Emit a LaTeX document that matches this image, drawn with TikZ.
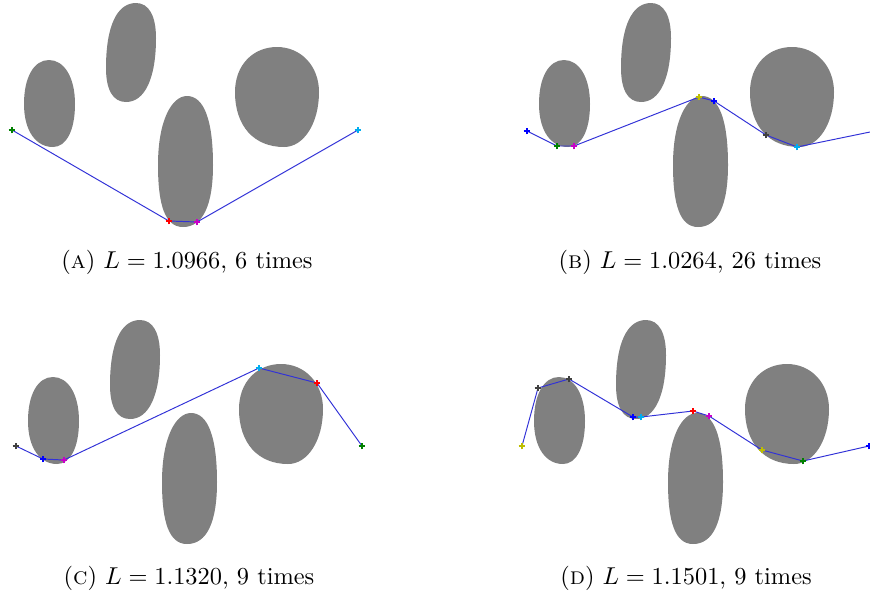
\documentclass[tikz,border=0pt]{standalone}
\usepackage{amsmath}
\usepackage{xcolor}
\usetikzlibrary{shapes.misc}
\definecolor{routeblue}{RGB}{50,50,215}
\definecolor{mkgreen}{RGB}{0,128,0}
\definecolor{mkyellow}{RGB}{190,190,0}
\definecolor{mkgray}{RGB}{64,64,64}
\definecolor{mkmagenta}{RGB}{200,0,200}

\begin{document}
\begin{tikzpicture}[x=0.41pt, y=-0.41pt,
    obstacle/.style={fill=gray},
    route/.style={draw=routeblue, line width=0.4pt},
    crossmark/.style={shape=cross out, rotate=45, draw=#1, line width=0.55pt,
        minimum size=1.4pt, inner sep=0pt},
    legende/.style={inner sep=0pt},
    obstacles/.pic={
        % Obstacle gauche
        \fill[obstacle] (49,60) .. controls +(15,0) and +(0,-27) .. (75,104)
            .. controls +(0,27) and +(13,0) .. (53,147)
            .. controls +(-17,0) and +(0,27) .. (24,104)
            .. controls +(0,-27) and +(-15,0) .. (49,60) -- cycle;
        % Obstacle haut
        \fill[obstacle] (136,3) .. controls +(13,0) and +(0,-22) .. (156,38)
            .. controls +(0,40) and +(19,0) .. (126,102)
            .. controls +(-13,0) and +(0,22) .. (106,68)
            .. controls +(0,-42) and +(-19,0) .. (136,3) -- cycle;
        % Obstacle central
        \fill[obstacle] (187,96) .. controls +(17,0) and +(0,-45) .. (213,165)
            .. controls +(0,40) and +(20,0) .. (183,227)
            .. controls +(-18,0) and +(0,40) .. (158,165)
            .. controls +(0,-45) and +(-15,0) .. (187,96) -- cycle;
        % Obstacle rond
        \fill[obstacle] (277,47) .. controls +(24,0) and +(0,-26) .. (319,92)
            .. controls +(0,31) and +(20,0) .. (284,147)
            .. controls +(-30,0) and +(0,34) .. (235,92)
            .. controls +(0,-27) and +(-24,0) .. (277,47) -- cycle;
    }]
    \useasboundingbox (0,0) rectangle (870,591);

    % Obstacles
    \pic at (0,0) {obstacles};
    \pic at (515,0) {obstacles};
    \pic at (4,317) {obstacles};
    \pic at (510,317) {obstacles};

    % Trajet (A)
    \coordinate (a1) at (12,130);
    \coordinate (a2) at (169,221);
    \coordinate (a3) at (197,222);
    \coordinate (a4) at (358,130);
    \draw[route] (a1) -- (a2) -- (a3) -- (a4);
    \node[crossmark=mkgreen] (pa1) at (a1) {};
    \node[crossmark=red] (pa2) at (a2) {};
    \node[crossmark=mkmagenta] (pa3) at (a3) {};
    \node[crossmark=cyan] (pa4) at (a4) {};

    % Trajet (B)
    \coordinate (b1) at (527,131);
    \coordinate (b2) at (557,146);
    \coordinate (b3) at (574,146);
    \coordinate (b4) at (699,97);
    \coordinate (b5) at (714,101);
    \coordinate (b6) at (766,135);
    \coordinate (b7) at (797,147);
    \coordinate (b8) at (870,132);
    \draw[route] (b1) -- (b2) -- (b3) -- (b4) -- (b5) -- (b6) -- (b7) -- (b8);
    \node[crossmark=blue] (pb1) at (b1) {};
    \node[crossmark=mkgreen] (pb2) at (b2) {};
    \node[crossmark=mkmagenta] (pb3) at (b3) {};
    \node[crossmark=mkyellow] (pb4) at (b4) {};
    \node[crossmark=blue] (pb5) at (b5) {};
    \node[crossmark=mkgray] (pb6) at (b6) {};
    \node[crossmark=cyan] (pb7) at (b7) {};

    % Trajet (C)
    \coordinate (c1) at (16,446);
    \coordinate (c2) at (43,459);
    \coordinate (c3) at (64,460);
    \coordinate (c4) at (259,368);
    \coordinate (c5) at (317,383);
    \coordinate (c6) at (362,446);
    \draw[route] (c1) -- (c2) -- (c3) -- (c4) -- (c5) -- (c6);
    \node[crossmark=mkgray] (pc1) at (c1) {};
    \node[crossmark=blue] (pc2) at (c2) {};
    \node[crossmark=mkmagenta] (pc3) at (c3) {};
    \node[crossmark=cyan] (pc4) at (c4) {};
    \node[crossmark=red] (pc5) at (c5) {};
    \node[crossmark=mkgreen] (pc6) at (c6) {};

    % Trajet (D)
    \coordinate (d1) at (522,446);
    \coordinate (d2) at (538,388);
    \coordinate (d3) at (569,379);
    \coordinate (d4) at (633,417);
    \coordinate (d5) at (641,417);
    \coordinate (d6) at (693,411);
    \coordinate (d7) at (709,416);
    \coordinate (d8) at (762,450);
    \coordinate (d9) at (803,461);
    \coordinate (d10) at (869,446);
    \draw[route] (d1) -- (d2) -- (d3) -- (d4) -- (d5) -- (d6) -- (d7) -- (d8) -- (d9) -- (d10);
    \node[crossmark=mkyellow] (pd1) at (d1) {};
    \node[crossmark=mkgray] (pd2) at (d2) {};
    \node[crossmark=mkgray] (pd3) at (d3) {};
    \node[crossmark=blue] (pd4) at (d4) {};
    \node[crossmark=cyan] (pd5) at (d5) {};
    \node[crossmark=red] (pd6) at (d6) {};
    \node[crossmark=mkmagenta] (pd7) at (d7) {};
    \node[crossmark=mkyellow] (pd8) at (d8) {};
    \node[crossmark=mkgreen] (pd9) at (d9) {};
    \node[crossmark=blue] (pd10) at (d10) {};

    % Legendes
    \node[legende] (la) at (187,262) {(\textsc{a}) $L = 1.0966$, 6 times};
    \node[legende] (lb) at (690,262) {(\textsc{b}) $L = 1.0264$, 26 times};
    \node[legende] (lc) at (189,578) {(\textsc{c}) $L = 1.1320$, 9 times};
    \node[legende] (ld) at (686,578) {(\textsc{d}) $L = 1.1501$, 9 times};
\end{tikzpicture}
\end{document}
